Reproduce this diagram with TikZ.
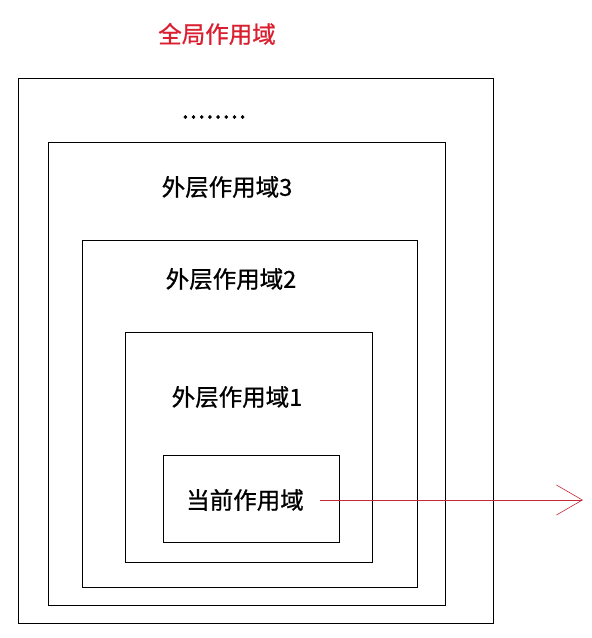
\documentclass[tikz,border=0pt]{standalone}
\usepackage{fontspec}
\setmainfont{Noto Sans CJK SC}[FakeBold=0.8]
\usepackage{tikz}
\usetikzlibrary{arrows.meta,positioning}
\definecolor{scopered}{RGB}{218,32,48}
\definecolor{linkred}{RGB}{196,40,58}

\begin{document}
\begin{tikzpicture}[x=1pt, y=-1pt,
    scopebox/.style={draw=black, line width=0.9pt},
    scopelabel/.style={font=\fontsize{23.5}{26}\selectfont, inner sep=0pt},
    arrowline/.style={draw=linkred, line width=0.6pt,
        -{Straight Barb[length=26pt, width=30pt, line width=0.6pt]}}]
    % canvas
    \fill[white] (0,0) rectangle (592,638);
    \useasboundingbox (0,0) rectangle (592,638);

    % title
    \node[scopelabel, text=scopered] (global) at (217,34) {全局作用域};

    % nested scopes, outermost first
    \draw[scopebox] (18,78) rectangle (493,623);
    \node[scopelabel] (dots) at (214,117)
        {\addfontfeature{LetterSpace=7,FakeBold=2}........};

    \draw[scopebox] (48,142) rectangle (445,605);
    \node[scopelabel] (outer3) at (227,187) {外层作用域3};

    \draw[scopebox] (82,240) rectangle (417,587);
    \node[scopelabel] (outer2) at (231,279) {外层作用域2};

    \draw[scopebox] (125,332) rectangle (372,562);
    \node[scopelabel] (outer1) at (237,397) {外层作用域1};

    \draw[scopebox] (163,455) rectangle (339,542);
    \node[scopelabel] (current) at (245,500) {当前作用域};

    % lookup goes out of every scope
    \coordinate (exit) at (583,500);
    \draw[arrowline] ([xshift=16pt]current.east) -- (exit);
\end{tikzpicture}
\end{document}
